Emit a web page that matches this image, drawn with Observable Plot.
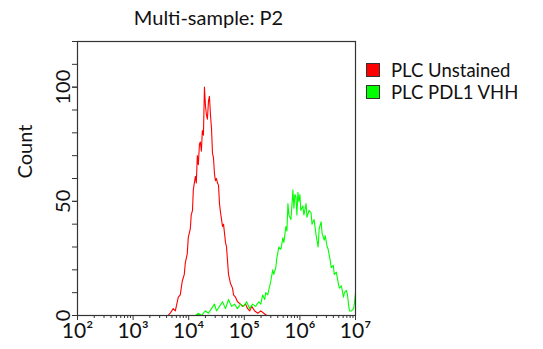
<!DOCTYPE html>
<html>
<head>
<meta charset="utf-8">
<script src="https://cdn.jsdelivr.net/npm/d3@7"></script>
<script src="https://cdn.jsdelivr.net/npm/@observablehq/plot@0.6"></script>
<style>
  body { margin: 0; background: #fff; font-family: Lato, "Open Sans", sans-serif; }
  #wrap { position: relative; width: 543px; height: 349px; }
  #title { position: absolute; top: 5px; left: 0; width: 417px; text-align: center; font-size: 20px; line-height: 24px; color: #111; }
  .leg { position: absolute; left: 366px; font-size: 18.5px; line-height: 22px; height: 22px; color: #111; display: flex; align-items: center; white-space: nowrap; }
  .sw { width: 12px; height: 12px; border: 1px solid #333; margin-right: 11px; flex: none; }
</style>
</head>
<body>
<div id="wrap">
  <div id="title">Multi-sample: P2</div>
</div>
<script>
const title = "Multi-sample: P2";
const seriesNames = ["PLC Unstained", "PLC PDL1 VHH"];
const seriesColors = ["#ff0000", "#00ff00"];
const yLabel = "Count";

const redX = [4270,4650,5270,5750,6500,7060,7650,8330,8690,9420,9810,10700,11100,11700,12100,13200,13700,14300,14900,15600,16200,16900,17600,18400,19200,20000,20800,21700,22700,23600,24600,25700,26800,27900,29100,30300,31600,33000,34400,35800,37400,40600,42300,45900,47900,49900,52000,56500,61400,64000,69500,75500,85600,93000,105000,115000,125000,136000,154000,175000,198000,224000,254000];
const redY = [0,1,3,2,8,9,15,18,23,27,34,38,44,46,55,61,58,70,66,75,76,72,81,79,100,92,88,86,94,96,88,82,71,69,62,59,60,58,57,49,45,39,40,32,30,24,18,14,12,9,8,6,5,4,5,3,2,4,2,1,2,1,0];

const greenX = [13300,14900,16900,20000,22700,25700,29100,31600,35800,40600,45900,52000,58900,66700,75500,85600,97000,110000,125000,141000,160000,182000,198000,214000,233000,243000,264000,275000,299000,325000,339000,368000,384000,418000,455000,494000,515000,560000,584000,609000,634000,689000,718000,749000,780000,813000,848000,884000,921000,960000,1000000,1040000,1130000,1180000,1290000,1340000,1460000,1590000,1650000,1800000,1960000,2130000,2220000,2410000,2510000,2740000,2850000,3100000,3230000,3510000,3660000,3980000,4150000,4520000,4920000,5130000,5580000,6070000,6330000,6890000,7180000,7480000,7800000,8490000,9240000,9630000,10000000];
const greenY = [0,1,0,2,1,3,5,2,4,6,3,7,4,5,3,5,4,6,3,5,4,6,5,9,7,10,9,11,15,20,18,21,25,30,29,34,32,39,37,49,44,42,48,55,47,53,52,44,54,50,53,46,48,44,49,43,46,45,40,42,35,30,38,41,36,33,35,30,29,24,21,22,18,19,14,12,13,8,10,11,9,5,2,2,3,6,10];

const xMajorTicks = [1e2, 1e3, 1e4, 1e5, 1e6, 1e7];
const xTickLabels = ["10²", "10³", "10⁴", "10⁵", "10⁶", "10⁷"];
const yMajorTicks = [0, 50, 100];
const yMinorTicks = [0, 10, 20, 30, 40, 50, 60, 70, 80, 90, 100, 110, 120];

const xMinorTicks = [];
for (let d = 2; d < 7; d++) for (let m = 2; m <= 9; m++) xMinorTicks.push(m * Math.pow(10, d));

const red = redX.map((x, i) => ({x, y: redY[i]}));
const green = greenX.map((x, i) => ({x, y: greenY[i]}));

const chart = Plot.plot({
  width: 543, height: 349,
  marginLeft: 77, marginRight: 188, marginTop: 41, marginBottom: 34,
  style: { fontFamily: "Lato, 'Open Sans', sans-serif", color: "#111", background: "transparent" },
  x: { type: "log", domain: [1e2, 1e7] },
  y: { domain: [0, 120] },
  marks: [
    Plot.line(red, { x: "x", y: "y", stroke: seriesColors[0], strokeWidth: 1.1 }),
    Plot.line(green, { x: "x", y: "y", stroke: seriesColors[1], strokeWidth: 1.1 }),
    Plot.axisX({ ticks: xMinorTicks, tickSize: 3, tickFormat: () => "", label: null, stroke: "#333" }),
    Plot.axisX({ ticks: xMajorTicks, tickSize: 5, tickPadding: 3, label: null, stroke: "#333",
      tickFormat: (d) => xTickLabels[xMajorTicks.indexOf(d)], fontSize: 21 }),
    Plot.axisY({ ticks: yMinorTicks, tickSize: 5, tickFormat: () => "", label: null, stroke: "#333" }),
    Plot.axisY({ ticks: yMajorTicks, tickSize: 5, tickPadding: 3, tickRotate: -90, label: null, stroke: "#333", fontSize: 20 }),
    Plot.text([yLabel], { frameAnchor: "left", dx: -52, rotate: -90, fontSize: 20, text: d => d }),
    Plot.frame({ stroke: "#333", strokeWidth: 1.2 })
  ]
});
const wrap = document.getElementById("wrap");
wrap.appendChild(chart);

seriesNames.forEach((name, i) => {
  const div = document.createElement("div");
  div.className = "leg";
  div.style.top = (59 + i * 22) + "px";
  div.innerHTML = `<span class="sw" style="background:${seriesColors[i]}"></span><span>${name}</span>`;
  wrap.appendChild(div);
});
</script>
</body>
</html>
